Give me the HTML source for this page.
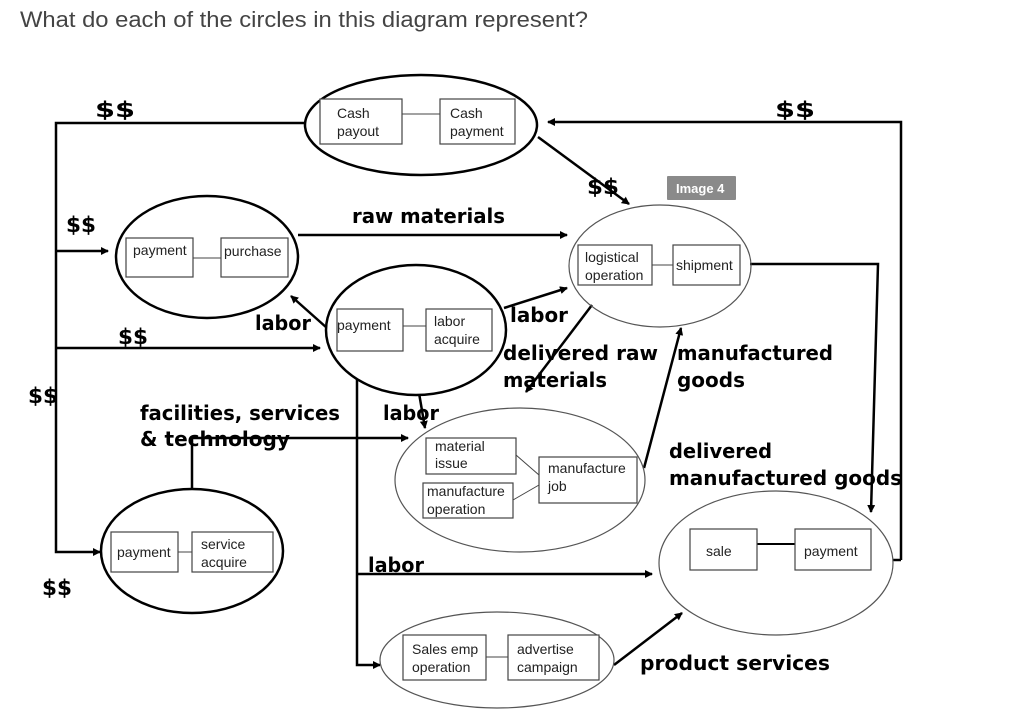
<!DOCTYPE html>
<html><head><meta charset="utf-8"><style>
html,body{margin:0;padding:0;background:#fff;}
svg{display:block;}
.t{font-family:"Liberation Sans",sans-serif;font-size:14px;fill:#222;}
.b{font-family:"DejaVu Sans","Liberation Sans",sans-serif;font-weight:bold;font-size:20px;fill:#000;}
.d{font-family:"DejaVu Sans","Liberation Sans",sans-serif;font-weight:bold;font-size:21px;fill:#000;}
.bx{fill:#fff;stroke:#444;stroke-width:1.2;}
.ln{stroke:#000;stroke-width:2.5;fill:none;}
.e{fill:none;stroke:#000;stroke-width:2.5;}
.eg{fill:none;stroke:#555;stroke-width:1.2;}
</style></head><body>
<svg width="1024" height="725" viewBox="0 0 1024 725" xmlns="http://www.w3.org/2000/svg">
<defs><marker id="a" markerWidth="8" markerHeight="8" refX="7" refY="4" orient="auto" markerUnits="userSpaceOnUse"><path d="M0,0 L8,4 L0,8 z" fill="#000"/></marker></defs>
<text x="20" y="27" font-family="Liberation Sans, sans-serif" font-size="22" fill="#444" textLength="568" lengthAdjust="spacingAndGlyphs">What do each of the circles in this diagram represent?</text>

<!-- connectors -->
<polyline class="ln" points="305,123 56,123 56,552 100,552" marker-end="url(#a)"/>
<line class="ln" x1="56" y1="251" x2="108" y2="251" marker-end="url(#a)"/>
<line class="ln" x1="56" y1="348" x2="320" y2="348" marker-end="url(#a)"/>
<line class="ln" x1="298" y1="235" x2="567" y2="235" marker-end="url(#a)"/>
<line class="ln" x1="327" y1="328" x2="291" y2="296" marker-end="url(#a)"/>
<polyline class="ln" points="901,560 901,122 548,122" marker-end="url(#a)"/>
<line class="ln" x1="538" y1="137" x2="629" y2="204" marker-end="url(#a)"/>
<polyline class="ln" points="750,264 878,264 871,512" marker-end="url(#a)"/>
<line class="ln" x1="893" y1="560" x2="901" y2="560"/>
<line class="ln" x1="504" y1="308" x2="567" y2="288" marker-end="url(#a)"/>
<line class="ln" x1="592" y1="305" x2="526" y2="392" marker-end="url(#a)"/>
<line class="ln" x1="644" y1="468" x2="681" y2="328" marker-end="url(#a)"/>
<line class="ln" x1="419" y1="393" x2="425" y2="428" marker-end="url(#a)"/>
<polyline class="ln" points="192,490 192,438 408,438" marker-end="url(#a)"/>
<polyline class="ln" points="357,375 357,665 380,665" marker-end="url(#a)"/>
<line class="ln" x1="357" y1="574" x2="652" y2="574" marker-end="url(#a)"/>
<line class="ln" x1="614" y1="665" x2="682" y2="613" marker-end="url(#a)"/>

<!-- ellipses -->
<ellipse class="e" cx="421" cy="125" rx="116" ry="50" fill="#fff"/>
<ellipse class="e" cx="207" cy="257" rx="91" ry="61"/>
<ellipse class="e" cx="416" cy="330" rx="90" ry="65" style="fill:#fff"/>
<ellipse class="eg" cx="660" cy="266" rx="91" ry="61"/>
<ellipse class="eg" cx="520" cy="480" rx="125" ry="72"/>
<ellipse class="e" cx="192" cy="551" rx="91" ry="62"/>
<ellipse class="eg" cx="776" cy="563" rx="117" ry="72"/>
<ellipse class="eg" cx="497" cy="660" rx="117" ry="48"/>

<!-- boxes: cash -->
<line x1="402" y1="114" x2="440" y2="114" stroke="#444"/>
<rect class="bx" x="320" y="99" width="82" height="45"/><rect class="bx" x="440" y="99" width="75" height="45"/>
<text class="t" x="337" y="118">Cash</text><text class="t" x="337" y="136">payout</text>
<text class="t" x="450" y="118">Cash</text><text class="t" x="450" y="136">payment</text>
<!-- purchase -->
<line x1="193" y1="258" x2="221" y2="258" stroke="#444"/>
<rect class="bx" x="126" y="238" width="67" height="39"/><rect class="bx" x="221" y="238" width="67" height="39"/>
<text class="t" x="133" y="255">payment</text><text class="t" x="224" y="256">purchase</text>
<!-- labor -->
<line x1="403" y1="326" x2="426" y2="326" stroke="#444"/>
<rect class="bx" x="337" y="309" width="66" height="42"/><rect class="bx" x="426" y="309" width="66" height="42"/>
<text class="t" x="337" y="330">payment</text>
<text class="t" x="434" y="326">labor</text><text class="t" x="434" y="344">acquire</text>
<!-- logistical -->
<line x1="652" y1="265" x2="673" y2="265" stroke="#444"/>
<rect class="bx" x="578" y="245" width="74" height="40"/><rect class="bx" x="673" y="245" width="67" height="40"/>
<text class="t" x="585" y="262">logistical</text><text class="t" x="585" y="280">operation</text>
<text class="t" x="676" y="270">shipment</text>
<!-- manufacture -->
<line x1="516" y1="455" x2="539" y2="475" stroke="#444"/>
<line x1="513" y1="500" x2="539" y2="485" stroke="#444"/>
<rect class="bx" x="426" y="438" width="90" height="36"/>
<rect class="bx" x="423" y="483" width="90" height="35"/>
<rect class="bx" x="539" y="457" width="98" height="46"/>
<text class="t" x="435" y="451">material</text><text class="t" x="435" y="468">issue</text>
<text class="t" x="427" y="496">manufacture</text><text class="t" x="427" y="514">operation</text>
<text class="t" x="548" y="473">manufacture</text><text class="t" x="548" y="491">job</text>
<!-- service -->
<line x1="178" y1="552" x2="192" y2="552" stroke="#444"/>
<rect class="bx" x="111" y="532" width="67" height="40"/><rect class="bx" x="192" y="532" width="81" height="40"/>
<text class="t" x="117" y="557">payment</text>
<text class="t" x="201" y="549">service</text><text class="t" x="201" y="567">acquire</text>
<!-- sale -->
<line x1="757" y1="544" x2="795" y2="544" stroke="#000" stroke-width="2"/>
<rect class="bx" x="690" y="529" width="67" height="41"/><rect class="bx" x="795" y="529" width="76" height="41"/>
<text class="t" x="706" y="556">sale</text><text class="t" x="804" y="556">payment</text>
<!-- sales emp -->
<line x1="486" y1="657" x2="508" y2="657" stroke="#444"/>
<rect class="bx" x="403" y="635" width="83" height="45"/><rect class="bx" x="508" y="635" width="91" height="45"/>
<text class="t" x="412" y="654">Sales emp</text><text class="t" x="412" y="672">operation</text>
<text class="t" x="517" y="654">advertise</text><text class="t" x="517" y="672">campaign</text>

<!-- Image 4 badge -->
<rect x="667" y="176" width="69" height="24" fill="#8a8a8a" rx="1"/>
<text x="676" y="193" font-family="Liberation Sans, sans-serif" font-weight="bold" font-size="13" fill="#fff">Image 4</text>

<!-- bold labels -->
<text class="d" x="95" y="117" textLength="40" lengthAdjust="spacingAndGlyphs">$$</text>
<text class="d" x="66" y="232" textLength="30" lengthAdjust="spacingAndGlyphs">$$</text>
<text class="d" x="118" y="344" textLength="30" lengthAdjust="spacingAndGlyphs">$$</text>
<text class="d" x="28" y="403" textLength="30" lengthAdjust="spacingAndGlyphs">$$</text>
<text class="d" x="42" y="595" textLength="30" lengthAdjust="spacingAndGlyphs">$$</text>
<text class="d" x="775" y="117" textLength="40" lengthAdjust="spacingAndGlyphs">$$</text>
<text class="d" x="587" y="194" textLength="32" lengthAdjust="spacingAndGlyphs">$$</text>
<text class="b" x="352" y="223" textLength="153" lengthAdjust="spacingAndGlyphs">raw materials</text>
<text class="b" x="255" y="330" textLength="56" lengthAdjust="spacingAndGlyphs">labor</text>
<text class="b" x="510" y="322" textLength="58" lengthAdjust="spacingAndGlyphs">labor</text>
<text class="b" x="503" y="360" textLength="155" lengthAdjust="spacingAndGlyphs">delivered raw</text>
<text class="b" x="503" y="387" textLength="104" lengthAdjust="spacingAndGlyphs">materials</text>
<text class="b" x="677" y="360" textLength="156" lengthAdjust="spacingAndGlyphs">manufactured</text>
<text class="b" x="677" y="387" textLength="68" lengthAdjust="spacingAndGlyphs">goods</text>
<text class="b" x="140" y="420" textLength="200" lengthAdjust="spacingAndGlyphs">facilities, services</text>
<text class="b" x="140" y="446" textLength="150" lengthAdjust="spacingAndGlyphs">&amp; technology</text>
<text class="b" x="383" y="420" textLength="56" lengthAdjust="spacingAndGlyphs">labor</text>
<text class="b" x="669" y="458" textLength="103" lengthAdjust="spacingAndGlyphs">delivered</text>
<text class="b" x="669" y="485" textLength="233" lengthAdjust="spacingAndGlyphs">manufactured goods</text>
<text class="b" x="368" y="572" textLength="56" lengthAdjust="spacingAndGlyphs">labor</text>
<text class="b" x="640" y="670" textLength="190" lengthAdjust="spacingAndGlyphs">product  services</text>
</svg>
</body></html>
